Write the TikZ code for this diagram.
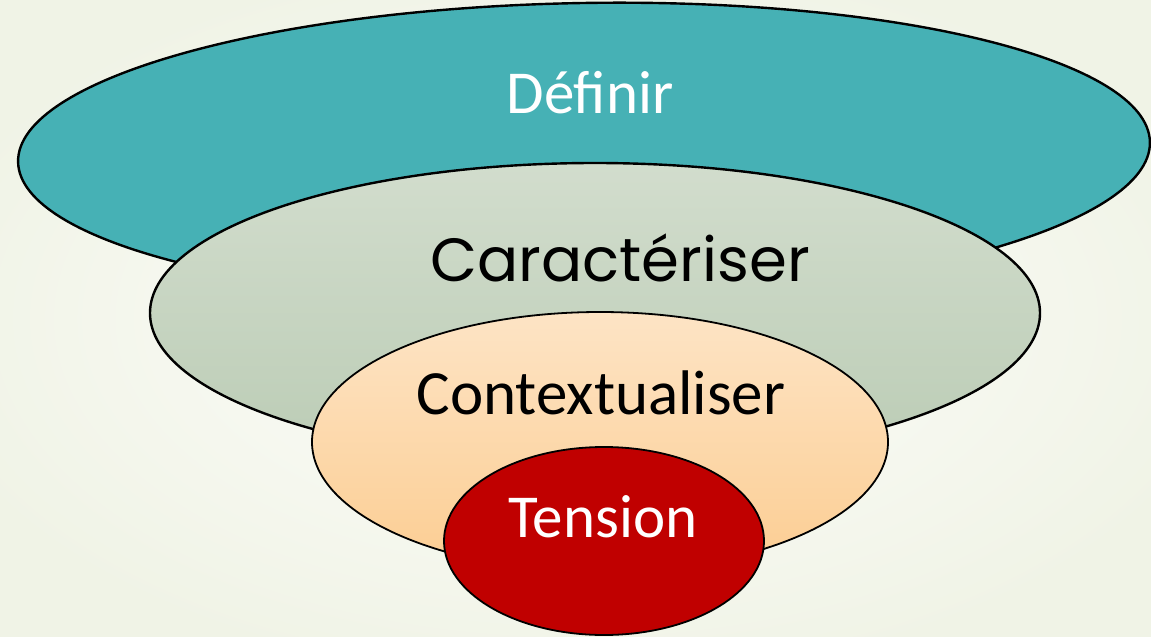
\documentclass[tikz,border=0pt]{standalone}
\usepackage{fontspec}
\setmainfont{Carlito}
\newfontfamily\gothic{Poppins}
\usetikzlibrary{shapes.geometric}
\definecolor{tealfill}{HTML}{46B1B5}
\definecolor{caratop}{HTML}{D2DDCD}
\definecolor{carabot}{HTML}{BBCCB5}
\definecolor{ctxtop}{HTML}{FDE4C5}
\definecolor{ctxbot}{HTML}{FCCD92}
\definecolor{tensred}{HTML}{C00000}
\definecolor{bgin}{HTML}{FDFEFB}
\definecolor{bgout}{HTML}{F0F3E6}
\tikzset{
  layer/.style={ellipse, draw=black, inner sep=0pt, line width=#1},
  layer/.default=1.8pt,
  lbl/.style={anchor=base, inner sep=0pt, font=\fontsize{61}{70}\selectfont},
}
\begin{document}
\begin{tikzpicture}[x=1pt,y=-1pt]
\useasboundingbox (0,0) rectangle (1151,637);
\shade[inner color=bgin, outer color=bgout] (-100,-50) rectangle (1251,687);
\node[layer=2.4pt, fill=tealfill, minimum width=1132pt, minimum height=298pt, rotate=1] (def) at (584,152) {};
\node[layer=2.4pt, top color=caratop, bottom color=carabot, minimum width=890pt, minimum height=300pt] (car) at (595,313) {};
\node[layer, top color=ctxtop, bottom color=ctxbot, minimum width=576pt, minimum height=260pt] (ctx) at (600,442) {};
\node[layer, fill=tensred, minimum width=320pt, minimum height=188pt] (ten) at (604,541) {};
\node[lbl, text=white] (tdef) at (590,113) {Définir};
\node[lbl, text=black, font=\gothic\fontsize{61}{70}\selectfont] (tcar) at (620,281) {Caractériser};
\node[lbl, text=black, font=\fontsize{63}{70}\selectfont] (tctx) at (601,414) {Contextualiser};
\node[lbl, text=white] (tten) at (603,537) {Tension};
\end{tikzpicture}
\end{document}
